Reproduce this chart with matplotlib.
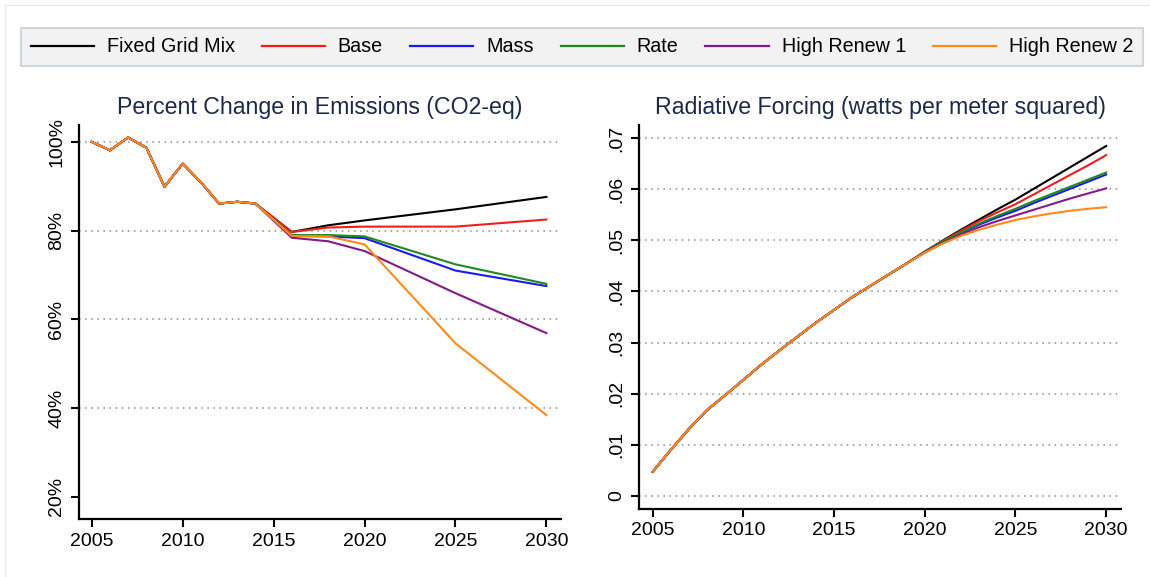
import matplotlib
matplotlib.use("Agg")
import matplotlib.pyplot as plt
from matplotlib.patches import Rectangle

plt.rcParams['font.family'] = ['Liberation Sans', 'DejaVu Sans']

# emissions, percent of 2005 level
hist_years = [2005, 2006, 2007, 2008, 2009, 2010, 2011, 2012, 2013, 2014]
hist_emis = [100, 98.1, 101.0, 98.7, 89.9, 95.1, 90.9, 86.1, 86.5, 86.1]
proj_years = [2016, 2018, 2020, 2025, 2030]
emis = {
    "Fixed Grid Mix": [79.7, 81.2, 82.3, 84.8, 87.6],
    "Base": [79.7, 80.7, 80.9, 80.9, 82.5],
    "Mass": [78.8, 78.7, 78.3, 71.0, 67.5],
    "Rate": [79.0, 79.0, 78.7, 72.4, 68.0],
    "High Renew 1": [78.4, 77.6, 75.4, 65.9, 56.9],
    "High Renew 2": [78.8, 78.7, 76.9, 54.6, 38.4],
}

# radiative forcing, W/m^2
rf_common_years = list(range(2005, 2020))
rf_common = [.0047, .0090, .0131, .0168, .0197, .0227, .0257, .0285, .0312,
             .0339, .0364, .0389, .0411, .0433, .0455]
rf_proj_years = list(range(2020, 2031))
rf = {
    "Fixed Grid Mix": [.0478, .0500, .0521, .0541, .0561, .0580, .0601, .0622, .0643, .0664, .0685],
    "Base": [.0478, .0499, .0519, .0538, .0555, .0571, .0590, .0609, .0628, .0647, .0667],
    "Mass": [.0477, .0497, .0515, .0531, .0545, .0558, .0573, .0587, .0601, .0615, .0629],
    "Rate": [.0477, .0498, .0516, .0533, .0548, .0562, .0577, .0591, .0605, .0619, .0633],
    "High Renew 1": [.0476, .0495, .0512, .0526, .0538, .0549, .0560, .0571, .0582, .0592, .0602],
    "High Renew 2": [.0476, .0494, .0509, .0521, .0531, .0540, .0547, .0553, .0558, .0562, .0565],
}

colors = {
    "Fixed Grid Mix": "black",
    "Base": "#f21d1d",
    "Mass": "#1a1aef",
    "Rate": "#1f8a1f",
    "High Renew 1": "#861a86",
    "High Renew 2": "#ff8a1a",
}
order = ["Fixed Grid Mix", "Base", "Mass", "Rate", "High Renew 1", "High Renew 2"]

title_color = "#1c2a4a"

fig = plt.figure(figsize=(11.5, 5.77), dpi=100)
fig.patches.append(Rectangle((5 / 1150, -0.1), 1.2, 1 - 5 / 577 + 0.1,
                             transform=fig.transFigure, fill=False,
                             edgecolor="#e4eaec", lw=1))

ax1 = fig.add_axes([0.0687, 0.1005, 0.4191, 0.6828])
ax2 = fig.add_axes([0.5559, 0.1187, 0.4186, 0.6646])


def style(ax):
    for s in ["top", "right"]:
        ax.spines[s].set_visible(False)
    for s in ["left", "bottom"]:
        ax.spines[s].set_linewidth(1.6)
    ax.tick_params(axis="both", direction="out", length=6, width=1.5,
                   labelsize=14, pad=4)
    ax.tick_params(axis="y", labelrotation=90)
    for lab in ax.get_yticklabels():
        lab.set_va("center")
    ax.set_xticks([2005, 2010, 2015, 2020, 2025, 2030])


# left panel
lines = []
for name in order:
    x = hist_years + proj_years
    y = hist_emis + emis[name]
    ln, = ax1.plot(x, y, color=colors[name], lw=1.5, label=name)
    lines.append(ln)
ax1.set_xlim(2004.3, 2030.8)
ax1.set_ylim(15.0, 103.8)
yt = [20, 40, 60, 80, 100]
ax1.set_yticks(yt)
ax1.set_yticklabels([f"{v}%" for v in yt])
for v in yt[1:]:
    ax1.axhline(v, color="#8a8a8a", lw=1.1, ls=(0, (1, 3)), zorder=0)
style(ax1)
ax1.set_title("Percent Change in Emissions (CO2-eq)", fontsize=16.7,
              color=title_color, pad=8)

# right panel
for name in order:
    x = rf_common_years + rf_proj_years
    y = rf_common + rf[name]
    ax2.plot(x, y, color=colors[name], lw=1.5)
ax2.set_xlim(2004.26, 2030.8)
ax2.set_ylim(-0.0025, 0.0726)
yt2 = [0, .01, .02, .03, .04, .05, .06, .07]
ax2.set_yticks(yt2)
ax2.set_yticklabels(["0"] + [f"{v:.2f}"[1:] for v in yt2[1:]])
for v in yt2:
    ax2.axhline(v, color="#8a8a8a", lw=1.1, ls=(0, (1, 3)), zorder=0)
style(ax2)
ax2.set_title("Radiative Forcing (watts per meter squared)", fontsize=16.7,
              color=title_color, pad=8)

leg = fig.legend(handles=lines, labels=order, ncol=6, loc="center",
                 bbox_to_anchor=(582 / 1150, 1 - 47 / 577),
                 fontsize=14.2, handlelength=3.2, handletextpad=0.66,
                 columnspacing=1.37, frameon=True, fancybox=False,
                 borderpad=0.5)
leg.get_frame().set_facecolor("#efefef")
leg.get_frame().set_edgecolor("#c5cdd8")
leg.get_frame().set_linewidth(1.5)
for h in leg.get_lines():
    h.set_linewidth(1.6)

fig.savefig("out.png", dpi=100)
